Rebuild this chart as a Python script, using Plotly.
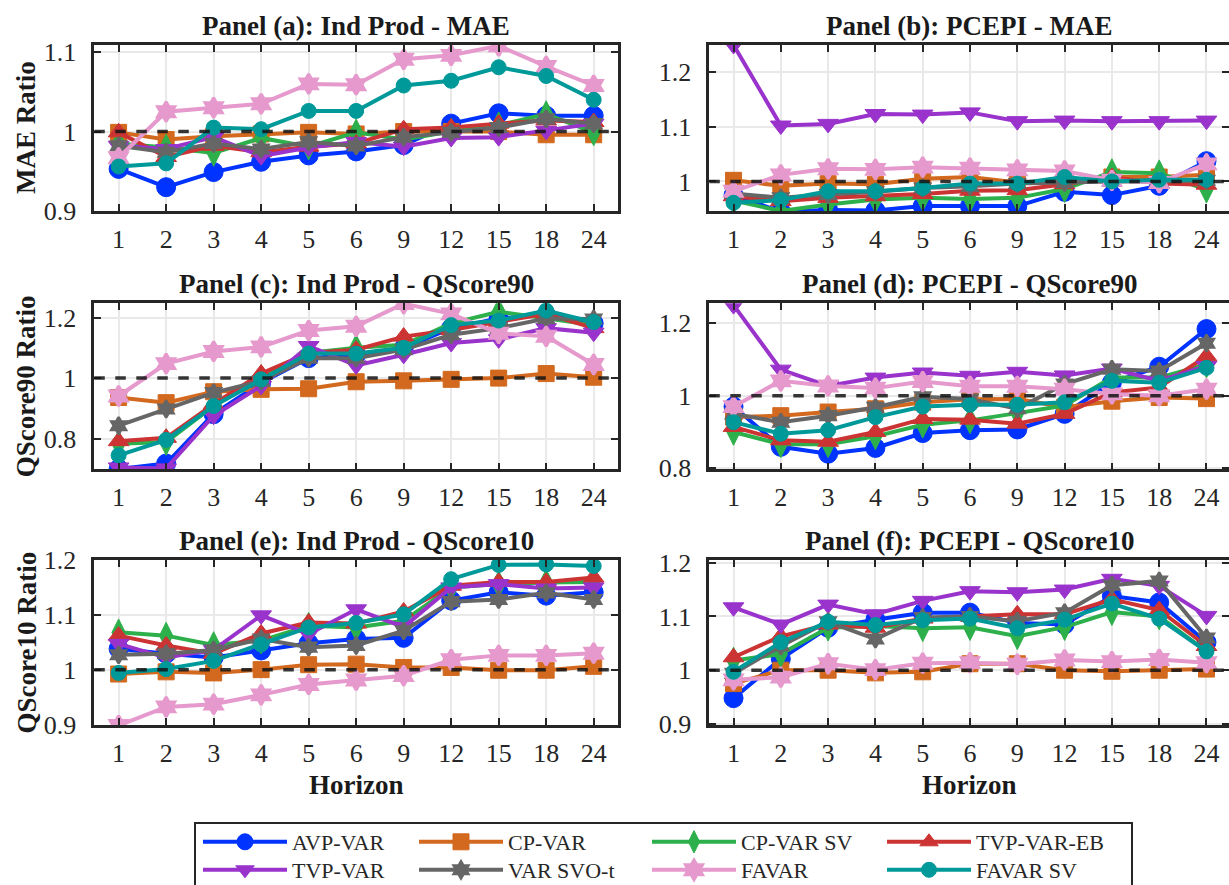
import plotly.graph_objects as go

# Forecast horizons (months) shown on every panel
horizons = ['1', '2', '3', '4', '5', '6', '9', '12', '15', '18', '24']

models = ['AVP-VAR', 'CP-VAR', 'CP-VAR SV', 'TVP-VAR-EB',
          'TVP-VAR', 'VAR SVO-t', 'FAVAR', 'FAVAR SV']

# Panel (a): Ind Prod - MAE ratios
ip_mae = {
    'AVP-VAR':    [0.953, 0.930, 0.949, 0.962, 0.970, 0.975, 0.983, 1.010, 1.023, 1.020, 1.020],
    'CP-VAR':     [0.999, 0.990, 0.994, 0.997, 0.999, 0.997, 1.000, 1.000, 1.000, 0.996, 0.996],
    'CP-VAR SV':  [0.985, 0.980, 0.973, 0.992, 0.981, 0.999, 0.990, 1.000, 1.008, 1.022, 0.999],
    'TVP-VAR-EB': [0.999, 0.968, 0.982, 0.974, 0.981, 0.985, 1.003, 1.005, 1.010, 1.014, 1.012],
    'TVP-VAR':    [0.982, 0.978, 0.993, 0.969, 0.980, 0.987, 0.981, 0.992, 0.993, 1.001, 1.010],
    'VAR SVO-t':  [0.982, 0.974, 0.985, 0.978, 0.987, 0.982, 0.993, 0.999, 1.005, 1.016, 1.010],
    'FAVAR':      [0.967, 1.025, 1.030, 1.035, 1.060, 1.059, 1.091, 1.096, 1.108, 1.082, 1.058],
    'FAVAR SV':   [0.956, 0.960, 1.005, 1.003, 1.026, 1.026, 1.058, 1.064, 1.081, 1.070, 1.040],
}

# Panel (b): PCEPI - MAE ratios
pce_mae = {
    'AVP-VAR':    [0.975, 0.945, 0.948, 0.947, 0.955, 0.955, 0.955, 0.981, 0.975, 0.992, 1.037],
    'CP-VAR':     [1.002, 0.992, 0.996, 0.995, 1.005, 1.008, 0.998, 0.998, 1.008, 1.008, 1.012],
    'CP-VAR SV':  [0.965, 0.946, 0.958, 0.967, 0.970, 0.968, 0.970, 0.986, 1.017, 1.015, 0.985],
    'TVP-VAR-EB': [0.973, 0.964, 0.970, 0.973, 0.977, 0.983, 0.984, 0.995, 1.008, 0.996, 0.994],
    'TVP-VAR':    [1.249, 1.102, 1.105, 1.123, 1.122, 1.126, 1.110, 1.111, 1.110, 1.110, 1.111],
    'VAR SVO-t':  [0.978, 0.970, 0.976, 0.981, 0.988, 0.991, 0.996, 0.998, 1.000, 1.000, 1.002],
    'FAVAR':      [0.982, 1.012, 1.023, 1.022, 1.026, 1.024, 1.021, 1.019, 1.002, 0.998, 1.032],
    'FAVAR SV':   [0.961, 0.966, 0.982, 0.982, 0.988, 0.996, 0.996, 1.008, 1.000, 1.003, 1.003],
}

# Panel (c): Ind Prod - QScore90 ratios
ip_qs90 = {
    'AVP-VAR':    [0.700, 0.718, 0.881, 0.985, 1.066, 1.077, 1.099, 1.165, 1.197, 1.208, 1.181],
    'CP-VAR':     [0.936, 0.919, 0.955, 0.963, 0.965, 0.988, 0.991, 0.996, 1.000, 1.015, 1.003],
    'CP-VAR SV':  [0.783, 0.789, 0.908, 1.000, 1.083, 1.100, 1.110, 1.181, 1.219, 1.197, 1.175],
    'TVP-VAR-EB': [0.792, 0.803, 0.914, 1.015, 1.083, 1.094, 1.137, 1.159, 1.186, 1.212, 1.165],
    'TVP-VAR':    [0.705, 0.702, 0.876, 0.974, 1.106, 1.042, 1.077, 1.116, 1.128, 1.165, 1.150],
    'VAR SVO-t':  [0.843, 0.898, 0.952, 0.990, 1.066, 1.066, 1.094, 1.143, 1.165, 1.197, 1.195],
    'FAVAR':      [0.941, 1.048, 1.088, 1.103, 1.157, 1.171, 1.246, 1.212, 1.148, 1.138, 1.045],
    'FAVAR SV':   [0.745, 0.796, 0.908, 0.996, 1.081, 1.081, 1.100, 1.175, 1.190, 1.223, 1.185],
}

# Panel (d): PCEPI - QScore90 ratios
pce_qs90 = {
    'AVP-VAR':    [0.970, 0.859, 0.840, 0.856, 0.897, 0.905, 0.907, 0.950, 1.036, 1.080, 1.184],
    'CP-VAR':     [0.941, 0.945, 0.955, 0.964, 0.982, 0.990, 0.991, 0.968, 0.985, 0.995, 0.992],
    'CP-VAR SV':  [0.900, 0.866, 0.866, 0.888, 0.920, 0.932, 0.952, 0.973, 1.050, 1.050, 1.086],
    'TVP-VAR-EB': [0.914, 0.877, 0.873, 0.900, 0.936, 0.934, 0.923, 0.950, 1.009, 1.023, 1.109],
    'TVP-VAR':    [1.250, 1.072, 1.027, 1.050, 1.064, 1.055, 1.066, 1.056, 1.075, 1.041, 1.082],
    'VAR SVO-t':  [0.950, 0.927, 0.945, 0.968, 0.997, 0.991, 0.964, 1.032, 1.073, 1.068, 1.145],
    'FAVAR':      [0.970, 1.041, 1.027, 1.021, 1.039, 1.026, 1.026, 1.018, 1.005, 1.000, 1.018],
    'FAVAR SV':   [0.927, 0.895, 0.905, 0.941, 0.970, 0.975, 0.975, 0.982, 1.041, 1.036, 1.077],
}

# Panel (e): Ind Prod - QScore10 ratios
ip_qs10 = {
    'AVP-VAR':    [1.038, 1.029, 1.022, 1.035, 1.048, 1.056, 1.058, 1.126, 1.141, 1.135, 1.141],
    'CP-VAR':     [0.992, 0.996, 0.994, 1.000, 1.009, 1.010, 1.004, 1.004, 0.999, 0.999, 1.006],
    'CP-VAR SV':  [1.068, 1.062, 1.045, 1.053, 1.080, 1.077, 1.089, 1.150, 1.156, 1.159, 1.160],
    'TVP-VAR-EB': [1.062, 1.044, 1.029, 1.066, 1.086, 1.084, 1.106, 1.153, 1.160, 1.160, 1.168],
    'TVP-VAR':    [1.047, 1.022, 1.036, 1.099, 1.065, 1.110, 1.078, 1.150, 1.156, 1.148, 1.150],
    'VAR SVO-t':  [1.027, 1.029, 1.036, 1.056, 1.041, 1.044, 1.071, 1.124, 1.128, 1.140, 1.128],
    'FAVAR':      [0.898, 0.932, 0.937, 0.954, 0.973, 0.981, 0.989, 1.018, 1.026, 1.026, 1.030],
    'FAVAR SV':   [0.994, 1.001, 1.016, 1.046, 1.077, 1.085, 1.101, 1.165, 1.191, 1.192, 1.189],
}

# Panel (f): PCEPI - QScore10 ratios
pce_qs10 = {
    'AVP-VAR':    [0.948, 1.021, 1.079, 1.094, 1.107, 1.107, 1.088, 1.085, 1.138, 1.126, 1.052],
    'CP-VAR':     [0.975, 1.000, 1.000, 0.995, 0.997, 1.012, 1.012, 1.000, 0.998, 1.000, 1.002],
    'CP-VAR SV':  [1.018, 1.030, 1.079, 1.082, 1.078, 1.080, 1.063, 1.080, 1.108, 1.100, 1.035],
    'TVP-VAR-EB': [1.024, 1.063, 1.085, 1.079, 1.096, 1.100, 1.104, 1.104, 1.132, 1.112, 1.045],
    'TVP-VAR':    [1.117, 1.085, 1.122, 1.104, 1.129, 1.147, 1.145, 1.150, 1.170, 1.157, 1.101],
    'VAR SVO-t':  [0.994, 1.045, 1.090, 1.058, 1.098, 1.100, 1.091, 1.107, 1.158, 1.166, 1.060],
    'FAVAR':      [0.982, 0.987, 1.012, 1.001, 1.013, 1.014, 1.011, 1.019, 1.016, 1.020, 1.014],
    'FAVAR SV':   [0.997, 1.052, 1.090, 1.084, 1.093, 1.096, 1.078, 1.094, 1.124, 1.096, 1.035],
}

panel_titles = ['Panel (a): Ind Prod - MAE', 'Panel (b): PCEPI - MAE',
                'Panel (c): Ind Prod - QScore90', 'Panel (d): PCEPI - QScore90',
                'Panel (e): Ind Prod - QScore10', 'Panel (f): PCEPI - QScore10']
row_titles = ['MAE Ratio', 'QScore90 Ratio', 'QScore10 Ratio']
x_title = 'Horizon'

# ---- styling ----
W, H = 1229, 885
SERIF = 'Liberation Serif'
INK = '#262626'

colors = {
    'AVP-VAR': '#0033FF', 'CP-VAR': '#D2691E', 'CP-VAR SV': '#2DB04B',
    'TVP-VAR-EB': '#CC3333', 'TVP-VAR': '#9933CC', 'VAR SVO-t': '#666666',
    'FAVAR': '#E699CC', 'FAVAR SV': '#009999',
}
symbols = {
    'AVP-VAR': 'circle', 'CP-VAR': 'square', 'CP-VAR SV': 'diamond-tall',
    'TVP-VAR-EB': 'triangle-up', 'TVP-VAR': 'triangle-down', 'VAR SVO-t': 'hexagram',
    'FAVAR': 'hexagram', 'FAVAR SV': 'circle',
}
sizes = {
    'AVP-VAR': 19, 'CP-VAR': 16, 'CP-VAR SV': 19, 'TVP-VAR-EB': 18,
    'TVP-VAR': 18, 'VAR SVO-t': 13, 'FAVAR': 15, 'FAVAR SV': 15,
}
# thicker outlines round off the six-pointed markers
edge_widths = {
    'AVP-VAR': 1, 'CP-VAR': 1, 'CP-VAR SV': 1, 'TVP-VAR-EB': 1,
    'TVP-VAR': 1, 'VAR SVO-t': 2.5, 'FAVAR': 3, 'FAVAR SV': 1,
}

# legend grid: 4 columns x 2 rows, one legend box per entry (pixel anchors)
legend_cols = [198, 414, 647, 882]
legend_rows = [842, 870]
legend_slot = {m: (i % 4, i // 4) for i, m in enumerate(models)}

# pixel boxes of the six axes: (left, right, top, bottom)
col_x = [(94.3, 618.0), (709.3, 1229.0)]
row_y = [(45.0, 211.0), (303.3, 469.3), (560.0, 725.0)]
x_ranges = [[-0.512, 10.512], [-0.512, 10.476]]
y_ranges = [[0.9, 1.109], [0.946, 1.249],
            [0.699, 1.247], [0.797, 1.255],
            [0.899, 1.200], [0.898, 1.205]]
y_ticks = [[0.9, 1.0, 1.1], [1.0, 1.1, 1.2],
           [0.8, 1.0, 1.2], [0.8, 1.0, 1.2],
           [0.9, 1.0, 1.1, 1.2], [0.9, 1.0, 1.1, 1.2]]
y_ticktext = [['0.9', '1', '1.1'], ['1', '1.1', '1.2'],
              ['0.8', '1', '1.2'], ['0.8', '1', '1.2'],
              ['0.9', '1', '1.1', '1.2'], ['0.9', '1', '1.1', '1.2']]

panels = [ip_mae, pce_mae, ip_qs90, pce_qs90, ip_qs10, pce_qs10]

fig = go.Figure()

for p, data in enumerate(panels):
    suffix = '' if p == 0 else str(p + 1)
    for k, m in enumerate(models):
        fig.add_trace(go.Scatter(
            x=horizons, y=data[m], name=m, mode='lines+markers',
            xaxis='x' + suffix, yaxis='y' + suffix,
            line=dict(color=colors[m], width=4),
            marker=dict(symbol=symbols[m], size=sizes[m], color=colors[m],
                        line=dict(color=colors[m], width=edge_widths[m])),
            showlegend=(p == 0),
            legend='legend' if k == 0 else 'legend' + str(k + 1),
            cliponaxis=True,
        ))

layout = dict(
    width=W, height=H,
    margin=dict(l=0, r=0, t=0, b=0, autoexpand=False),
    paper_bgcolor='white', plot_bgcolor='white',
    font=dict(family=SERIF, color=INK, size=24),
    showlegend=True,
)

annotations = []
shapes = []
for p in range(6):
    r, c = divmod(p, 2)
    x0, x1 = col_x[c]
    t, b = row_y[r]
    suffix = '' if p == 0 else str(p + 1)
    axis_common = dict(
        showline=True, linewidth=2.5, linecolor=INK, mirror='ticks',
        ticks='inside', ticklen=7, tickwidth=2, tickcolor=INK,
        showgrid=True, gridcolor='#e9e9e9', gridwidth=2, zeroline=False,
        tickfont=dict(family=SERIF, size=26, color=INK),
        automargin=False,
    )
    layout['xaxis' + suffix] = dict(
        axis_common, type='category', domain=[x0 / W, x1 / W],
        range=x_ranges[c], anchor='y' + suffix, ticklabelstandoff=3,
    )
    layout['yaxis' + suffix] = dict(
        axis_common, domain=[1 - b / H, 1 - t / H], range=y_ranges[p],
        tickvals=y_ticks[p], ticktext=y_ticktext[p],
        anchor='x' + suffix, ticklabelstandoff=10,
    )
    # reference line at ratio 1
    shapes.append(dict(
        type='line', xref='x' + suffix + ' domain', yref='y' + suffix,
        x0=0, x1=1, y0=1, y1=1, layer='above',
        line=dict(color='rgba(20,20,20,0.85)', width=3.5, dash='dash'),
    ))
    annotations.append(dict(
        text='<b>' + panel_titles[p] + '</b>', xref='paper', yref='paper',
        x=(x0 + x1) / 2 / W, y=1 - (t - 19) / H, showarrow=False,
        xanchor='center', yanchor='middle',
        font=dict(family=SERIF, size=27, color='#1a1a1a'),
    ))

for r in range(3):
    t, b = row_y[r]
    annotations.append(dict(
        text='<b>' + row_titles[r] + '</b>', xref='paper', yref='paper',
        x=26 / W, y=1 - (t + b) / 2 / H, textangle=-90, showarrow=False,
        xanchor='center', yanchor='middle',
        font=dict(family=SERIF, size=27, color='#1a1a1a'),
    ))

for c in range(2):
    x0, x1 = col_x[c]
    annotations.append(dict(
        text='<b>' + x_title + '</b>', xref='paper', yref='paper',
        x=(x0 + x1) / 2 / W, y=1 - 785 / H, showarrow=False,
        xanchor='center', yanchor='middle',
        font=dict(family=SERIF, size=27, color='#1a1a1a'),
    ))

# legend frame
shapes.append(dict(
    type='rect', xref='paper', yref='paper',
    x0=195 / W, x1=1132 / W, y0=-0.05, y1=1 - 823 / H,
    line=dict(color=INK, width=2), fillcolor='rgba(0,0,0,0)', layer='above',
))

for k, m in enumerate(models):
    key = 'legend' if k == 0 else 'legend' + str(k + 1)
    ci, ri = legend_slot[m]
    layout[key] = dict(
        x=legend_cols[ci] / W, y=1 - legend_rows[ri] / H,
        xanchor='left', yanchor='middle',
        orientation='v', bgcolor='rgba(0,0,0,0)', borderwidth=0,
        itemwidth=84, tracegroupgap=0, itemclick=False, itemdoubleclick=False,
        font=dict(family=SERIF, size=22, color=INK),
    )

layout['annotations'] = annotations
layout['shapes'] = shapes
fig.update_layout(**layout)

fig.write_html('out.html')
